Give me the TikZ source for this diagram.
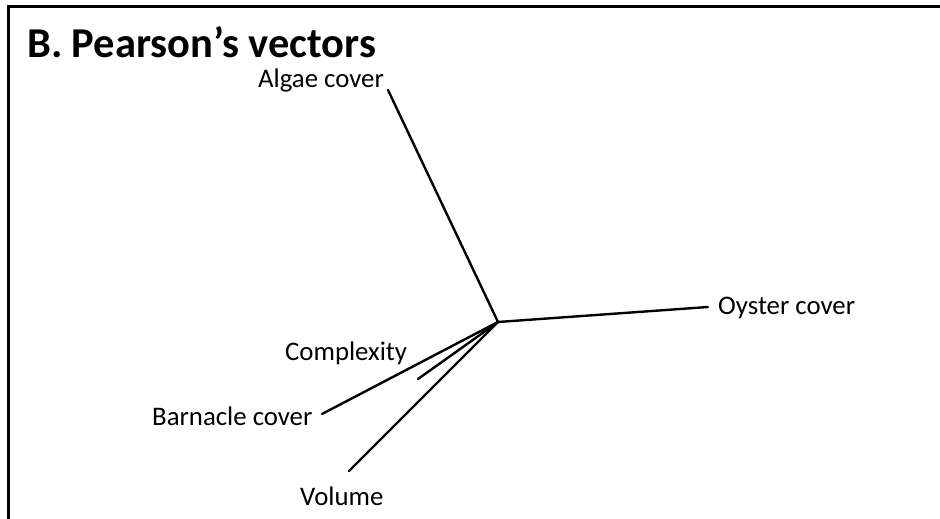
\documentclass[tikz,border=0pt]{standalone}
\usepackage{fontspec}
\setmainfont{Carlito}
\begin{document}
\begin{tikzpicture}[x=1pt,y=-1pt,
  lbl/.style={anchor=base west,inner sep=0pt,font=\fontsize{26.8}{30}\selectfont},
  vec/.style={line width=2.4pt,line cap=round},
  frame/.style={line width=3pt}]
\useasboundingbox (0,0) rectangle (940,519);
\draw[frame] (8.5,519) -- (8.5,7) -- (940,7);
\node[anchor=base west,inner sep=0pt,font=\fontsize{42.5}{48}\selectfont\bfseries] (title) at (27,58) {B. Pearson’s vectors};
\coordinate (o) at (498,322);
\coordinate (ea) at (388,90);
\coordinate (eo) at (708,307);
\coordinate (eb) at (322,414);
\coordinate (ev) at (349,471);
\coordinate (ec) at (418,379);
\node[lbl] (algae) at (258,88) {Algae cover};
\node[lbl] (oyster) at (718,314) {Oyster cover};
\node[lbl] (complexity) at (285,360) {Complexity};
\node[lbl] (barnacle) at (152,425) {Barnacle cover};
\node[lbl] (volume) at (300,505) {Volume};
\draw[vec] (o) -- (ea);
\draw[vec] (o) -- (eo);
\draw[vec] (o) -- (eb);
\draw[vec] (o) -- (ev);
\draw[vec] (o) -- (ec);
\end{tikzpicture}
\end{document}
